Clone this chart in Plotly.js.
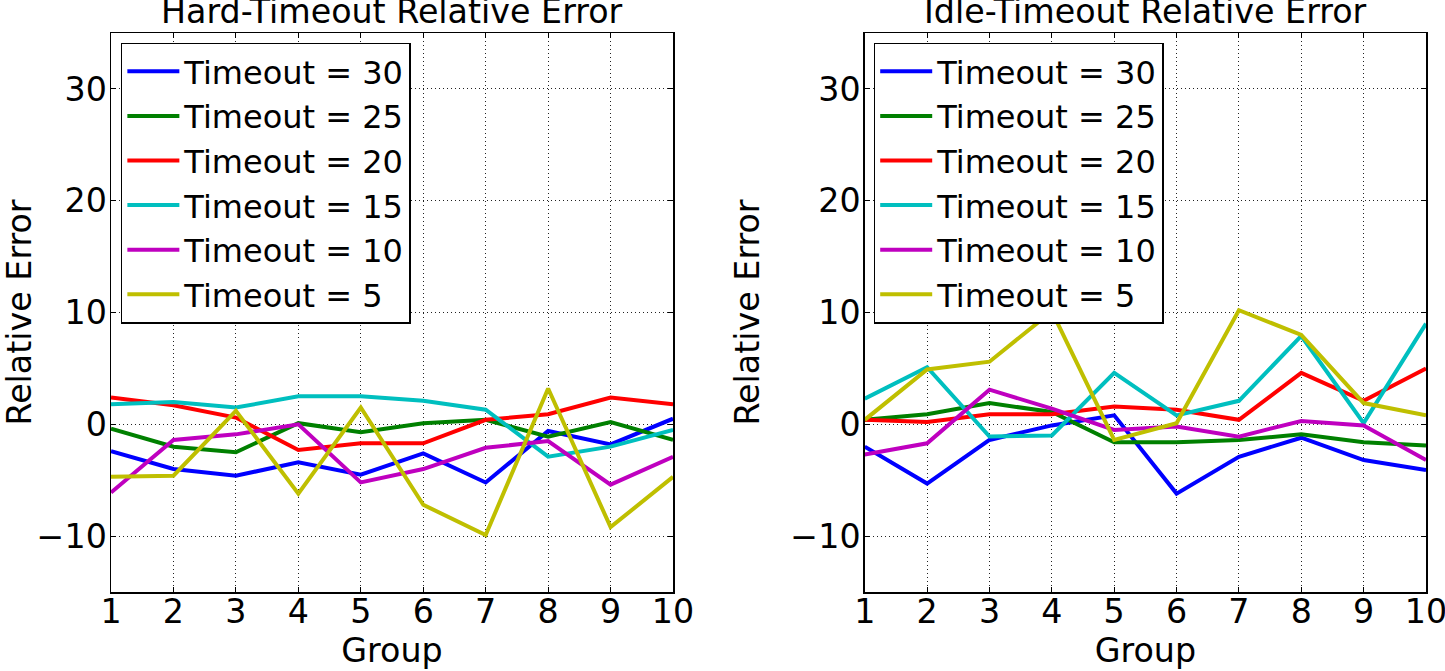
<!DOCTYPE html>
<html>
<head>
<meta charset="utf-8">
<script src="https://cdn.plot.ly/plotly-3.0.1.min.js"></script>
<style>
  html, body { margin: 0; padding: 0; background: #fff; }
  #grafica { width: 1445px; height: 671px; }
</style>
</head>
<body>
<div id="grafica"></div>
<script>
// groups on the x axis
var grupos = [1, 2, 3, 4, 5, 6, 7, 8, 9, 10];
var timeouts = ["Timeout = 30", "Timeout = 25", "Timeout = 20", "Timeout = 15", "Timeout = 10", "Timeout = 5"];
var colores = ["#0000ff", "#008000", "#ff0000", "#00bfbf", "#bf00bf", "#bfbf00"];
var ticksY = [-10, 0, 10, 20, 30];

// Hard-Timeout relative error (left)
var hard30 = [-2.4, -4.0, -4.6, -3.4, -4.5, -2.6, -5.2, -0.6, -1.8, 0.5];
var hard25 = [-0.4, -2.0, -2.5, 0.1, -0.7, 0.1, 0.4, -1.1, 0.2, -1.4];
var hard20 = [2.4, 1.7, 0.6, -2.3, -1.7, -1.7, 0.4, 0.9, 2.4, 1.8];
var hard15 = [1.8, 2.0, 1.5, 2.5, 2.5, 2.1, 1.3, -2.9, -2.0, -0.5];
var hard10 = [-6.1, -1.4, -0.9, 0.0, -5.2, -4.0, -2.1, -1.5, -5.4, -2.9];
var hard5 = [-4.7, -4.6, 1.2, -6.2, 1.5, -7.2, -9.9, 3.2, -9.2, -4.7];

// Idle-Timeout relative error (right)
var idle30 = [-2.0, -5.3, -1.4, -0.1, 0.8, -6.2, -2.9, -1.2, -3.2, -4.1];
var idle25 = [0.4, 0.9, 1.9, 1.1, -1.6, -1.6, -1.4, -0.9, -1.6, -1.9];
var idle20 = [0.4, 0.2, 0.9, 0.9, 1.6, 1.3, 0.4, 4.6, 2.1, 5.0];
var idle15 = [2.3, 5.1, -1.1, -1.0, 4.6, 0.8, 2.1, 7.9, 0.1, 9.0];
var idle10 = [-2.7, -1.7, 3.1, 1.4, -0.5, -0.2, -1.1, 0.3, -0.1, -3.2];
var idle5 = [0.4, 4.9, 5.6, 10.1, -1.4, 0.1, 10.2, 8.0, 1.9, 0.8];

var hard = [hard30, hard25, hard20, hard15, hard10, hard5];
var idle = [idle30, idle25, idle20, idle15, idle10, idle5];

var fuente = "DejaVu Sans, sans-serif";
var tam = 33.3;

function armarTrazas(series, eje, leyenda) {
    var trazas = [];
    for (var i = 0; i < series.length; i++) {
        trazas.push({
            x: grupos,
            y: series[i],
            name: timeouts[i],
            type: "scatter",
            mode: "lines",
            line: { color: colores[i], width: 4 },
            xaxis: "x" + eje,
            yaxis: "y" + eje,
            legend: leyenda
        });
    }
    return trazas;
}

function ejeBase() {
    return {
        ticks: "inside",
        ticklen: 5,
        tickcolor: "#000",
        showline: true,
        linecolor: "#000",
        linewidth: 1.5,
        mirror: "ticks",
        showgrid: true,
        gridcolor: "#222",
        gridwidth: 1,
        griddash: "1px,3px",
        zeroline: false,
        ticklabeloverflow: "allow",
        tickfont: { family: fuente, size: tam, color: "#000" }
    };
}

function ejeX(dominio, ancla) {
    var eje = ejeBase();
    eje.domain = dominio;
    eje.anchor = ancla;
    eje.range = [1, 10];
    eje.tickvals = grupos;
    eje.ticklabelstandoff = -10;
    eje.title = { text: "Group", font: { family: fuente, size: tam, color: "#000" }, standoff: 6 };
    return eje;
}

function ejeY(ancla) {
    var eje = ejeBase();
    eje.anchor = ancla;
    eje.range = [-15, 35];
    eje.tickvals = ticksY;
    eje.ticklabelstandoff = -4;
    eje.title = { text: "Relative Error", font: { family: fuente, size: tam, color: "#000" }, standoff: 20 };
    return eje;
}

function estiloLeyenda(x) {
    return {
        x: x,
        y: 0.983,
        xanchor: "left",
        yanchor: "top",
        bgcolor: "#fff",
        bordercolor: "#000",
        borderwidth: 1.5,
        itemwidth: 52,
        tracegroupgap: 0,
        font: { family: fuente, size: 32, color: "#000" }
    };
}

var datos = armarTrazas(hard, "", "legend").concat(armarTrazas(idle, "2", "legend2"));

var layout = {
    width: 1445,
    height: 671,
    autosize: false,
    margin: { l: 111, r: 19, t: 33, b: 79 },
    paper_bgcolor: "#fff",
    plot_bgcolor: "#fff",
    font: { family: fuente, size: tam, color: "#000" },
    showlegend: true,
    legend: estiloLeyenda(0.0075),
    legend2: estiloLeyenda(0.58),
    xaxis: ejeX([0, 0.4274], "y"),
    yaxis: ejeY("x"),
    xaxis2: ejeX([0.5732, 1], "y2"),
    yaxis2: ejeY("x2"),
    annotations: [
        {
            text: "Hard-Timeout Relative Error",
            xref: "paper", yref: "paper",
            x: 0.2137, y: 1, xanchor: "center", yanchor: "bottom",
            showarrow: false,
            font: { family: fuente, size: tam, color: "#000" }
        },
        {
            text: "Idle-Timeout Relative Error",
            xref: "paper", yref: "paper",
            x: 0.7866, y: 1, xanchor: "center", yanchor: "bottom",
            showarrow: false,
            font: { family: fuente, size: tam, color: "#000" }
        }
    ]
};

Plotly.newPlot("grafica", datos, layout, { displayModeBar: false, staticPlot: true });
</script>
</body>
</html>
